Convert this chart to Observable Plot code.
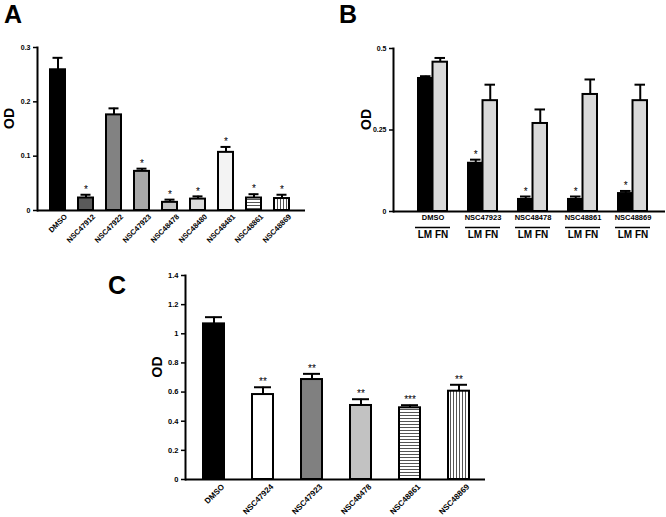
<!DOCTYPE html>
<html><head><meta charset="utf-8">
<script src="https://cdn.jsdelivr.net/npm/d3@7"></script>
<script src="https://cdn.jsdelivr.net/npm/@observablehq/plot@0.6"></script>
<style>
html,body{margin:0;padding:0;background:#fff;}
body{width:666px;height:517px;position:relative;overflow:hidden;font-family:"Liberation Sans",Arial,sans-serif;}
.panel{position:absolute;}
.panel svg{overflow:visible;}
#letters{position:absolute;left:0;top:0;pointer-events:none;}
</style></head><body>
<svg width="0" height="0" style="position:absolute"><defs>
<pattern id="hstripe" width="6" height="3" patternUnits="userSpaceOnUse"><rect width="6" height="3" fill="#fff"/><rect y="1" width="6" height="1" fill="#555"/></pattern>
<pattern id="vstripe" width="3" height="6" patternUnits="userSpaceOnUse"><rect width="3" height="6" fill="#fff"/><rect x="1" width="1" height="6" fill="#555"/></pattern>
</defs></svg>
<div id="pA" class="panel" style="left:0;top:0"></div>
<div id="pB" class="panel" style="left:330px;top:0"></div>
<div id="pC" class="panel" style="left:80px;top:270px"></div>
<svg id="letters" width="666" height="517">
<text x="4" y="23" font-size="25" font-weight="bold" font-family="Liberation Sans, Arial, sans-serif">A</text>
<text x="339" y="23" font-size="25" font-weight="bold" font-family="Liberation Sans, Arial, sans-serif">B</text>
<text x="108" y="294" font-size="25" font-weight="bold" font-family="Liberation Sans, Arial, sans-serif">C</text>
</svg>
<script>
// ---------- Panel A data ----------
const aCats = ["DMSO","NSC47912","NSC47922","NSC47923","NSC48478","NSC48480","NSC48481","NSC48861","NSC48869"];
const aMean = [0.259,0.023,0.176,0.072,0.015,0.021,0.107,0.023,0.022];
const aUpper = [0.281,0.029,0.188,0.077,0.020,0.026,0.117,0.030,0.029];
const aSig = ["","*","","*","*","*","*","*","*"];
const aTicks = [0,0.1,0.2,0.3];

// ---------- Panel B data ----------
const bGroups = ["DMSO","NSC47923","NSC48478","NSC48861","NSC48869"];
const bConds = ["LM","FN"];
const bLM = [0.408,0.148,0.037,0.037,0.055];
const bLMUpper = [0.415,0.159,0.046,0.046,0.063];
const bFN = [0.458,0.340,0.270,0.359,0.340];
const bFNUpper = [0.471,0.389,0.313,0.405,0.389];
const bSig = ["","*","*","*","*"];
const bTicks = [0,0.25,0.5];

// ---------- Panel C data ----------
const cCats = ["DMSO","NSC47924","NSC47923","NSC48478","NSC48861","NSC48869"];
const cMean = [1.068,0.583,0.686,0.508,0.492,0.606];
const cUpper = [1.114,0.633,0.725,0.551,0.510,0.650];
const cSig = ["","**","**","**","***","**"];
const cTicks = [0,0.2,0.4,0.6,0.8,1,1.2,1.4];

// ---------- styles ----------
const FONT = "'Liberation Sans', Arial, sans-serif";
const aFill = {DMSO:"#000",NSC47912:"#5a5a5a",NSC47922:"#828282",NSC47923:"#a8a8a8",NSC48478:"#c4c4c4",NSC48480:"#dcdcdc",NSC48481:"#f3f3f3",NSC48861:"url(#hstripe)",NSC48869:"url(#vstripe)"};
const bFill = {LM:"#000",FN:"#d9d9d9"};
const cFill = {DMSO:"#000",NSC47924:"#fff",NSC47923:"#808080",NSC48478:"#c2c2c2",NSC48861:"url(#hstripe)",NSC48869:"url(#vstripe)"};

const fmt = d => String(d);
const base = {style:{fontFamily:FONT, background:"transparent", overflow:"visible", color:"#000"}, color:{type:"identity"}};

// ---------- Panel A ----------
const dataA = aCats.map((c,i)=>({cat:c, mean:aMean[i], up:aUpper[i], sig:aSig[i]}));
const plotA = Plot.plot({
  ...base,
  width:330, height:270, marginLeft:37, marginRight:25, marginTop:47, marginBottom:60,
  x:{domain:aCats, range:[40,299.5], paddingInner:0.473, paddingOuter:0.3, axis:null},
  y:{domain:[0,0.3], axis:null},
  marks:[
    Plot.axisY({ticks:aTicks, tickFormat:fmt, tickSize:4, tickPadding:3, fontSize:7, fontWeight:"bold", label:null, strokeWidth:1.5}),
    Plot.axisX({tickRotate:-45, tickSize:0, tickPadding:5, dx:8, fontSize:7.5, fontWeight:"bold", label:null}),
    Plot.barY(dataA, {x:"cat", y:"mean", fill:d=>aFill[d.cat], stroke:"#000", strokeWidth:2}),
    Plot.ruleX(dataA, {x:"cat", y1:"mean", y2:"up", strokeWidth:2}),
    Plot.tickY(dataA, {x:"cat", y:"up", strokeWidth:2, insetLeft:2.5, insetRight:2.5}),
    Plot.text(dataA, {x:"cat", y:"up", text:"sig", dy:-5, fontSize:10, fill:"#000"}),
    Plot.ruleY([0], {strokeWidth:2}),
    Plot.frame({anchor:"left", strokeWidth:2}),
    Plot.text(["OD"], {frameAnchor:"left", dx:-28, rotate:-90, fontSize:14, fontWeight:"bold", fill:"#000"})
  ]
});
document.getElementById("pA").append(plotA);

// ---------- Panel B ----------
const dataB = bGroups.map((g,i)=>({g, lm:bLM[i], lmUp:bLMUpper[i], fn:bFN[i], fnUp:bFNUpper[i], sig:bSig[i]}));
const hb = 14.5; // half band
const plotB = Plot.plot({
  ...base,
  width:336, height:270, marginLeft:63, marginRight:1, marginTop:48, marginBottom:59,
  x:{domain:bGroups, range:[66.8,338.2], paddingInner:0.426, paddingOuter:0.4, axis:null},
  y:{domain:[0,0.5], axis:null},
  marks:[
    Plot.axisY({ticks:bTicks, tickFormat:fmt, tickSize:4, tickPadding:3, fontSize:7, fontWeight:"bold", label:null, strokeWidth:1.5}),
    Plot.axisX({tickSize:0, tickPadding:3, fontSize:7.5, fontWeight:"bold", label:null}),
    Plot.barY(dataB, {x:"g", y:"lm", fill:bFill.LM, stroke:"#000", strokeWidth:2, insetRight:hb}),
    Plot.barY(dataB, {x:"g", y:"fn", fill:bFill.FN, stroke:"#000", strokeWidth:2, insetLeft:hb}),
    Plot.ruleX(dataB, {x:"g", y1:"lm", y2:"lmUp", strokeWidth:2, dx:-hb/2}),
    Plot.ruleX(dataB, {x:"g", y1:"fn", y2:"fnUp", strokeWidth:2, dx:hb/2}),
    Plot.tickY(dataB, {x:"g", y:"lmUp", strokeWidth:2, insetLeft:2, insetRight:hb+2}),
    Plot.tickY(dataB, {x:"g", y:"fnUp", strokeWidth:2, insetLeft:hb+2, insetRight:2}),
    Plot.text(dataB, {x:"g", y:"lmUp", text:"sig", dx:-hb/2, dy:-5, fontSize:10, fill:"#000"}),
    Plot.ruleY([0], {strokeWidth:2}),
    Plot.frame({anchor:"left", strokeWidth:2}),
    Plot.tickY(bGroups, {x:d=>d, y:()=>0, dy:16, strokeWidth:1.5, insetLeft:-3, insetRight:-3}),
    Plot.text(bGroups, {x:d=>d, y:()=>0, dy:23, text:()=>bConds.join(" "), fontSize:10, fontWeight:"bold", fill:"#000"}),
    Plot.text(["OD"], {frameAnchor:"left", dx:-27, rotate:-90, fontSize:14, fontWeight:"bold", fill:"#000"})
  ]
});
document.getElementById("pB").append(plotB);

// ---------- Panel C ----------
const dataC = cCats.map((c,i)=>({cat:c, mean:cMean[i], up:cUpper[i], sig:cSig[i]}));
const plotC = Plot.plot({
  ...base,
  width:500, height:247, marginLeft:105, marginRight:95, marginTop:5, marginBottom:38,
  x:{domain:cCats, range:[102.2,409.8], paddingInner:0.575, paddingOuter:0.4, axis:null},
  y:{domain:[0,1.4], axis:null},
  marks:[
    Plot.axisY({ticks:cTicks, tickFormat:fmt, tickSize:4, tickPadding:3, fontSize:7.5, fontWeight:"bold", label:null, strokeWidth:1.5}),
    Plot.axisX({tickRotate:-45, tickSize:0, tickPadding:6, dx:9, fontSize:8, fontWeight:"bold", label:null}),
    Plot.barY(dataC, {x:"cat", y:"mean", fill:d=>cFill[d.cat], stroke:"#000", strokeWidth:2}),
    Plot.ruleX(dataC, {x:"cat", y1:"mean", y2:"up", strokeWidth:2}),
    Plot.tickY(dataC, {x:"cat", y:"up", strokeWidth:2, insetLeft:2, insetRight:2}),
    Plot.text(dataC, {x:"cat", y:"up", text:"sig", dy:-5, fontSize:10, fill:"#000"}),
    Plot.ruleY([0], {strokeWidth:2}),
    Plot.frame({anchor:"left", strokeWidth:2}),
    Plot.text(["OD"], {frameAnchor:"left", dx:-28, rotate:-90, fontSize:14, fontWeight:"bold", fill:"#000"})
  ]
});
document.getElementById("pC").append(plotC);
</script>
</body></html>
